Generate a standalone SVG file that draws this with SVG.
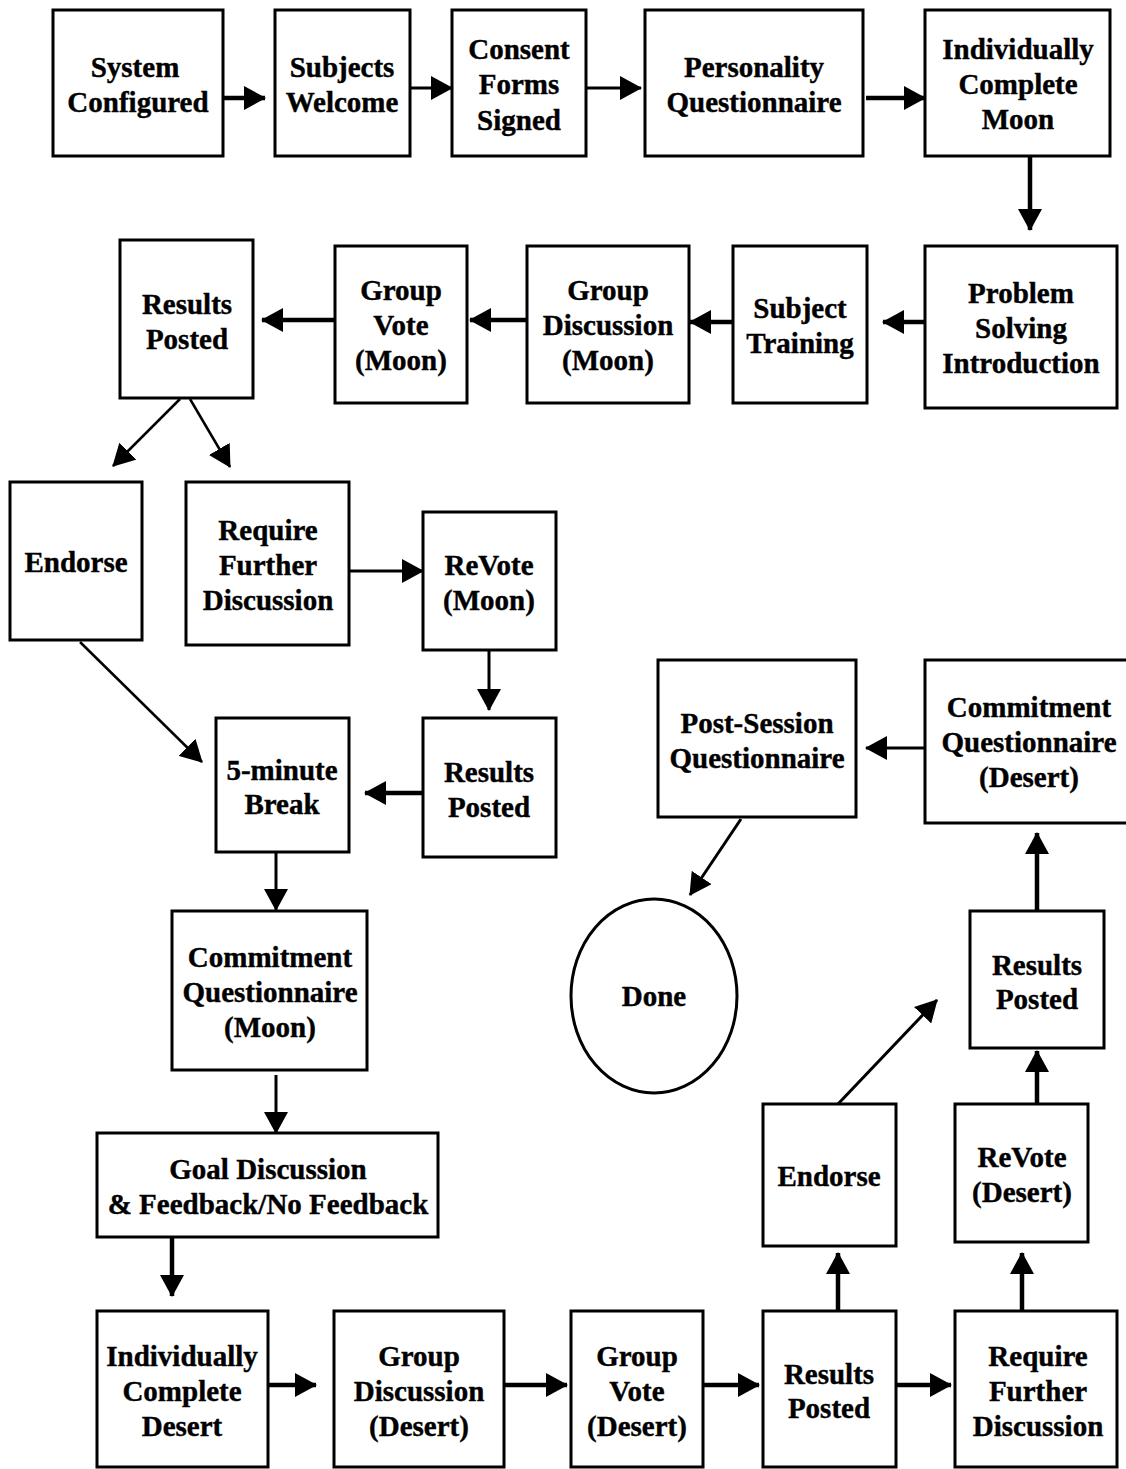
<svg xmlns="http://www.w3.org/2000/svg" width="1126" height="1469" viewBox="0 0 1126 1469">
<style>
.box{fill:#fff;stroke:#000;stroke-width:3}
.t{font-family:"Liberation Serif","Times New Roman",serif;font-weight:bold;font-size:29px;text-anchor:middle;fill:#000;stroke:#000;stroke-width:0.4}
.c{fill:none;stroke:#000;stroke-width:3}
.k{stroke-width:4.5}
.d{stroke-width:2.5}
</style>
<defs>
<marker id="ah" markerUnits="userSpaceOnUse" markerWidth="22" markerHeight="24" refX="21" refY="12" orient="auto" viewBox="0 0 22 24">
<path d="M0,0 L22,12 L0,24 z" fill="#000"/>
</marker>
</defs>
<rect width="1126" height="1469" fill="#fff"/>

<g id="connectors">
<line class="c k" x1="223" y1="98" x2="265" y2="98" marker-end="url(#ah)"/>
<line class="c" x1="410" y1="88" x2="452" y2="88" marker-end="url(#ah)"/>
<line class="c" x1="586" y1="88" x2="641" y2="88" marker-end="url(#ah)"/>
<line class="c k" x1="866" y1="98" x2="925" y2="98" marker-end="url(#ah)"/>
<line class="c k" x1="1030" y1="156" x2="1030" y2="230" marker-end="url(#ah)"/>
<line class="c k" x1="925" y1="322" x2="883" y2="322" marker-end="url(#ah)"/>
<line class="c k" x1="733" y1="322" x2="690" y2="322" marker-end="url(#ah)"/>
<line class="c k" x1="527" y1="320" x2="470" y2="320" marker-end="url(#ah)"/>
<line class="c k" x1="337" y1="320" x2="262" y2="320" marker-end="url(#ah)"/>
<line class="c d" x1="180" y1="399" x2="113" y2="466" marker-end="url(#ah)"/>
<line class="c d" x1="190" y1="399" x2="230" y2="467" marker-end="url(#ah)"/>
<line class="c" x1="349" y1="571" x2="423" y2="571" marker-end="url(#ah)"/>
<line class="c" x1="489" y1="651" x2="489" y2="710" marker-end="url(#ah)"/>
<line class="c k" x1="423" y1="793" x2="365" y2="793" marker-end="url(#ah)"/>
<line class="c d" x1="80" y1="642" x2="202" y2="762" marker-end="url(#ah)"/>
<line class="c" x1="276" y1="852" x2="276" y2="910" marker-end="url(#ah)"/>
<line class="c" x1="276" y1="1075" x2="276" y2="1133" marker-end="url(#ah)"/>
<line class="c k" x1="172" y1="1237" x2="172" y2="1296" marker-end="url(#ah)"/>
<line class="c k" x1="268" y1="1385" x2="316" y2="1385" marker-end="url(#ah)"/>
<line class="c k" x1="504" y1="1385" x2="567" y2="1385" marker-end="url(#ah)"/>
<line class="c k" x1="703" y1="1385" x2="759" y2="1385" marker-end="url(#ah)"/>
<line class="c k" x1="896" y1="1385" x2="951" y2="1385" marker-end="url(#ah)"/>
<line class="c k" x1="838" y1="1311" x2="838" y2="1253" marker-end="url(#ah)"/>
<line class="c k" x1="1022" y1="1311" x2="1022" y2="1253" marker-end="url(#ah)"/>
<line class="c k" x1="1037" y1="1104" x2="1037" y2="1051" marker-end="url(#ah)"/>
<line class="c" x1="838" y1="1104" x2="937" y2="1000" marker-end="url(#ah)"/>
<line class="c k" x1="1037" y1="911" x2="1037" y2="833" marker-end="url(#ah)"/>
<line class="c" x1="925" y1="748" x2="866" y2="748" marker-end="url(#ah)"/>
<line class="c" x1="741" y1="819" x2="690" y2="895" marker-end="url(#ah)"/>
</g>

<g id="n1"><rect class="box" x="53" y="10" width="170" height="146"/><text class="t" x="135" y="77">System</text><text class="t" x="138" y="112">Configured</text></g>
<g id="n2"><rect class="box" x="275" y="10" width="135" height="146"/><text class="t" x="342" y="77">Subjects</text><text class="t" x="342" y="112">Welcome</text></g>
<g id="n3"><rect class="box" x="452" y="10" width="134" height="146"/><text class="t" x="519" y="59">Consent</text><text class="t" x="519" y="94">Forms</text><text class="t" x="519" y="130">Signed</text></g>
<g id="n4"><rect class="box" x="645" y="10" width="218" height="146"/><text class="t" x="754" y="77">Personality</text><text class="t" x="754" y="112">Questionnaire</text></g>
<g id="n5"><rect class="box" x="925" y="10" width="185" height="146"/><text class="t" x="1018" y="59">Individually</text><text class="t" x="1018" y="94">Complete</text><text class="t" x="1018" y="129">Moon</text></g>
<g id="n6"><rect class="box" x="925" y="246" width="192" height="162"/><text class="t" x="1021" y="303">Problem</text><text class="t" x="1021" y="338">Solving</text><text class="t" x="1021" y="373">Introduction</text></g>
<g id="n7"><rect class="box" x="733" y="246" width="134" height="157"/><text class="t" x="800" y="318">Subject</text><text class="t" x="800" y="353">Training</text></g>
<g id="n8"><rect class="box" x="527" y="246" width="162" height="157"/><text class="t" x="608" y="300">Group</text><text class="t" x="608" y="335">Discussion</text><text class="t" x="608" y="370">(Moon)</text></g>
<g id="n9"><rect class="box" x="335" y="246" width="132" height="157"/><text class="t" x="401" y="300">Group</text><text class="t" x="401" y="335">Vote</text><text class="t" x="401" y="370">(Moon)</text></g>
<g id="n10"><rect class="box" x="120" y="240" width="133" height="158"/><text class="t" x="187" y="314">Results</text><text class="t" x="187" y="349">Posted</text></g>
<g id="n11"><rect class="box" x="10" y="482" width="132" height="158"/><text class="t" x="76" y="572">Endorse</text></g>
<g id="n12"><rect class="box" x="186" y="482" width="163" height="163"/><text class="t" x="268" y="540">Require</text><text class="t" x="268" y="575">Further</text><text class="t" x="268" y="610">Discussion</text></g>
<g id="n13"><rect class="box" x="423" y="512" width="133" height="138"/><text class="t" x="489" y="575">ReVote</text><text class="t" x="489" y="610">(Moon)</text></g>
<g id="n14"><rect class="box" x="423" y="718" width="133" height="139"/><text class="t" x="489" y="782">Results</text><text class="t" x="489" y="817">Posted</text></g>
<g id="n15"><rect class="box" x="216" y="718" width="133" height="134"/><text class="t" x="282" y="780">5-minute</text><text class="t" x="282" y="814">Break</text></g>
<g id="n16"><rect class="box" x="172" y="911" width="195" height="159"/><text class="t" x="270" y="967">Commitment</text><text class="t" x="270" y="1002">Questionnaire</text><text class="t" x="270" y="1037">(Moon)</text></g>
<g id="n17"><rect class="box" x="97" y="1133" width="341" height="104"/><text class="t" x="268" y="1179">Goal Discussion</text><text class="t" x="268" y="1214">&amp; Feedback/No Feedback</text></g>
<g id="n18"><rect class="box" x="97" y="1311" width="171" height="156"/><text class="t" x="182" y="1366">Individually</text><text class="t" x="182" y="1401">Complete</text><text class="t" x="182" y="1436">Desert</text></g>
<g id="n19"><rect class="box" x="334" y="1311" width="170" height="156"/><text class="t" x="419" y="1366">Group</text><text class="t" x="419" y="1401">Discussion</text><text class="t" x="419" y="1436">(Desert)</text></g>
<g id="n20"><rect class="box" x="571" y="1311" width="132" height="156"/><text class="t" x="637" y="1366">Group</text><text class="t" x="637" y="1401">Vote</text><text class="t" x="637" y="1436">(Desert)</text></g>
<g id="n21"><rect class="box" x="763" y="1311" width="133" height="156"/><text class="t" x="829" y="1384">Results</text><text class="t" x="829" y="1418">Posted</text></g>
<g id="n22"><rect class="box" x="955" y="1311" width="162" height="156"/><text class="t" x="1038" y="1366">Require</text><text class="t" x="1038" y="1401">Further</text><text class="t" x="1038" y="1436">Discussion</text></g>
<g id="n23"><rect class="box" x="763" y="1104" width="133" height="142"/><text class="t" x="829" y="1186">Endorse</text></g>
<g id="n24"><rect class="box" x="955" y="1104" width="133" height="138"/><text class="t" x="1022" y="1167">ReVote</text><text class="t" x="1022" y="1202">(Desert)</text></g>
<g id="n25"><rect class="box" x="970" y="911" width="134" height="137"/><text class="t" x="1037" y="975">Results</text><text class="t" x="1037" y="1009">Posted</text></g>
<g id="n26"><rect class="box" x="925" y="660" width="215" height="163"/><text class="t" x="1029" y="717">Commitment</text><text class="t" x="1029" y="752">Questionnaire</text><text class="t" x="1029" y="787">(Desert)</text></g>
<g id="n27"><rect class="box" x="658" y="660" width="198" height="157"/><text class="t" x="757" y="733">Post-Session</text><text class="t" x="757" y="768">Questionnaire</text></g>
<g id="n28"><ellipse class="box" cx="654" cy="996" rx="83" ry="97"/><text class="t" x="654" y="1006">Done</text></g>
</svg>
